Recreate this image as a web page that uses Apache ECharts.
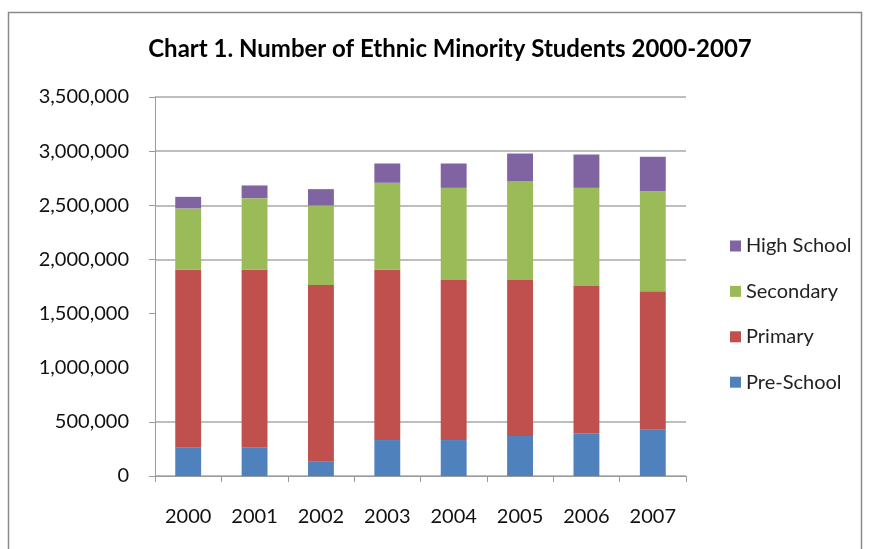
<!DOCTYPE html>
<html>
<head>
<meta charset="utf-8">
<script src="https://cdn.jsdelivr.net/npm/echarts@6/dist/echarts.min.js"></script>
<style>html,body{margin:0;padding:0;background:#fff;}#c{width:872px;height:549px;}</style>
</head>
<body>
<div id="c"></div>
<script>
const years = ['2000','2001','2002','2003','2004','2005','2006','2007'];
const preSchool = [261000, 261000, 132000, 332000, 332000, 369000, 394000, 428000];
const primary = [1647000, 1647000, 1631000, 1576000, 1477000, 1440000, 1360000, 1277000];
const secondary = [563000, 658000, 735000, 800000, 852000, 911000, 907000, 923000];
const highSchool = [107000, 117000, 151000, 178000, 225000, 258000, 308000, 320000];
const yTicks = [0, 500000, 1500000, 2000000, 2500000, 3000000, 3500000];

const chart = echarts.init(document.getElementById('c'), null, {renderer: 'canvas'});
const FONT = 'Lato';
const mk = (name, data, color) => ({
  name, type: 'bar', stack: 'total', data, barWidth: '39%',
  itemStyle: {color}
});
chart.setOption({
  animation: false,
  backgroundColor: '#ffffff',
  title: {
    text: 'Chart 1. Number of Ethnic Minority Students 2000-2007',
    left: 445, top: 32, textAlign: 'center',
    textStyle: {fontFamily: FONT, fontWeight: 'bold', fontSize: 24, color: '#000'}
  },
  graphic: [{
    type: 'rect', shape: {x: 8.5, y: 12.5, width: 853, height: 560},
    style: {fill: 'none', stroke: '#8a8a8a', lineWidth: 1.5}, silent: true
  }],
  legend: {
    orient: 'vertical', left: 725, top: 231,
    itemWidth: 11, itemHeight: 11, itemGap: 25.4,
    icon: 'rect',
    data: ['High School', 'Secondary', 'Primary', 'Pre-School'],
    textStyle: {fontFamily: FONT, fontSize: 20, color: '#222', lineHeight: 20}
  },
  grid: {left: 155, right: 186, top: 97, bottom: 73, containLabel: false},
  xAxis: {
    type: 'category', data: years,
    axisLine: {lineStyle: {color: '#9a9a9a', width: 1}},
    axisTick: {show: true, alignWithLabel: false, length: 6, lineStyle: {color: '#9a9a9a'}},
    axisLabel: {fontFamily: FONT, fontSize: 20, color: '#111', margin: 31}
  },
  yAxis: {
    type: 'value', min: 0, max: 3500000, interval: 500000,
    axisLine: {show: true, lineStyle: {color: '#9a9a9a'}},
    axisTick: {show: true, length: 6, lineStyle: {color: '#9a9a9a'}, customValues: yTicks},
    splitLine: {lineStyle: {color: ['#a8a8a8','#a8a8a8','rgba(0,0,0,0)','#a8a8a8','#a8a8a8','#a8a8a8','#a8a8a8','#a8a8a8'], width: 1.5}},
    axisLabel: {
      fontFamily: FONT, fontSize: 20, color: '#111', margin: 26,
      formatter: v => v.toLocaleString('en-US')
    }
  },
  series: [
    mk('Pre-School', preSchool, '#4f81bd'),
    mk('Primary', primary, '#c0504d'),
    mk('Secondary', secondary, '#9bbb59'),
    mk('High School', highSchool, '#8064a2')
  ]
});
</script>
</body>
</html>
